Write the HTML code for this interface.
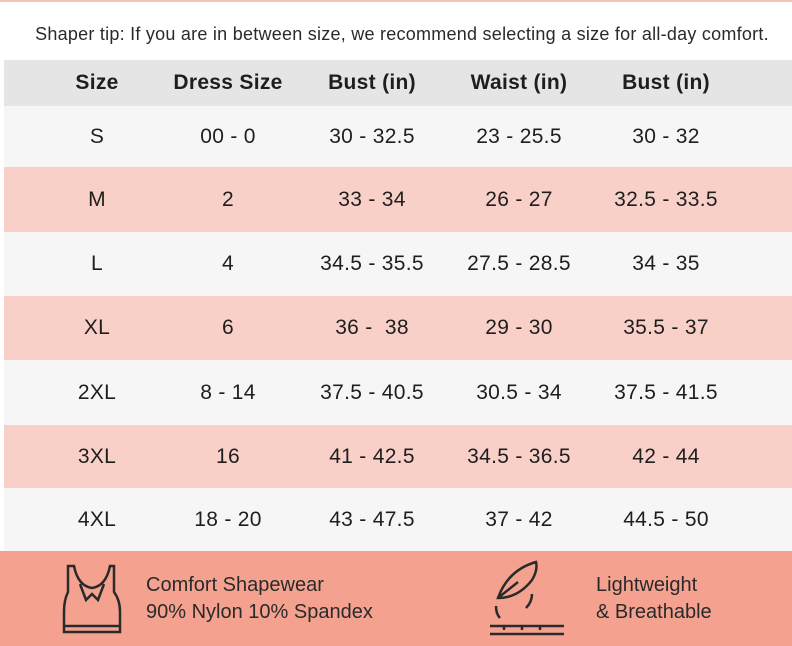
<!DOCTYPE html>
<html><head><style>
body{margin:0;width:792px;height:646px;background:#fff;font-family:"Liberation Sans",sans-serif;color:#1e1e1e;position:relative;overflow:hidden}
.top{position:absolute;left:0;top:0;width:792px;height:2px;background:#f3c3b8}
.tip{position:absolute;left:0;width:804px;top:24px;text-align:center;font-size:18px;letter-spacing:0.25px;color:#2a2a2a}
.row{position:absolute;left:4px;width:788px;display:flex;align-items:center}
.row div{position:absolute;transform:translateX(-50%);white-space:nowrap;font-size:21px;letter-spacing:0.3px}
.h div{font-weight:bold;font-size:21px}
.foot{position:absolute;left:0;top:551px;width:792px;height:95px;background:#f4a28f}
.ft{position:absolute;font-size:20px;line-height:27px;color:#2a2a2a}
</style></head><body>
<div class="top"></div>
<div class="tip">Shaper tip: If you are in between size, we recommend selecting a size for all-day comfort.</div>
<div class="row h" style="top:60px;height:46px;background:#e5e5e5"><div style="left:93px">Size</div><div style="left:224px">Dress Size</div><div style="left:368px">Bust (in)</div><div style="left:515px">Waist (in)</div><div style="left:662px">Bust (in)</div></div>
<div class="row" style="top:106px;height:61px;background:#f6f6f6"><div style="left:93px">S</div><div style="left:224px">00 - 0</div><div style="left:368px">30 - 32.5</div><div style="left:515px">23 - 25.5</div><div style="left:662px">30 - 32</div></div>
<div class="row" style="top:167px;height:65px;background:#f9d0c8"><div style="left:93px">M</div><div style="left:224px">2</div><div style="left:368px">33 - 34</div><div style="left:515px">26 - 27</div><div style="left:662px">32.5 - 33.5</div></div>
<div class="row" style="top:232px;height:64px;background:#f6f6f6"><div style="left:93px">L</div><div style="left:224px">4</div><div style="left:368px">34.5 - 35.5</div><div style="left:515px">27.5 - 28.5</div><div style="left:662px">34 - 35</div></div>
<div class="row" style="top:296px;height:64px;background:#f9d0c8"><div style="left:93px">XL</div><div style="left:224px">6</div><div style="left:368px">36 -&nbsp; 38</div><div style="left:515px">29 - 30</div><div style="left:662px">35.5 - 37</div></div>
<div class="row" style="top:360px;height:65px;background:#f6f6f6"><div style="left:93px">2XL</div><div style="left:224px">8 - 14</div><div style="left:368px">37.5 - 40.5</div><div style="left:515px">30.5 - 34</div><div style="left:662px">37.5 - 41.5</div></div>
<div class="row" style="top:425px;height:63px;background:#f9d0c8"><div style="left:93px">3XL</div><div style="left:224px">16</div><div style="left:368px">41 - 42.5</div><div style="left:515px">34.5 - 36.5</div><div style="left:662px">42 - 44</div></div>
<div class="row" style="top:488px;height:63px;background:#f6f6f6"><div style="left:93px">4XL</div><div style="left:224px">18 - 20</div><div style="left:368px">43 - 47.5</div><div style="left:515px">37 - 42</div><div style="left:662px">44.5 - 50</div></div>
<div class="foot"></div>
<svg style="position:absolute;left:60px;top:560px" width="70" height="80" viewBox="0 0 70 80" fill="none" stroke="#2a2a2a" stroke-width="2.5">
<path d="M8 6 V32 Q4 40 4 52 V72 H60 V52 Q60 40 54 32 V6 H50 Q46 26 32 28 Q18 26 14 6 Z"/>
<path d="M20 24 L26 40 L32 34 L38 40 L44 24"/><path d="M4 66 H60"/>
</svg>
<div class="ft" style="left:146px;top:572px">Comfort Shapewear<br>90% Nylon 10% Spandex</div>
<svg style="position:absolute;left:488px;top:558px" width="90" height="84" viewBox="0 0 90 84" fill="none" stroke="#2a2a2a" stroke-width="2.5">
<path d="M48 4 Q20 12 10 40 Q30 40 44 22 Q50 12 48 4 Z"/><path d="M10 40 L30 24"/>
<path d="M8 48 Q8 56 12 60"/><path d="M44 36 Q44 44 38 50"/>
<path d="M2 68 H76"/><path d="M2 76 H76"/><path d="M16 68 V72 M34 68 V72 M52 68 V72"/>
</svg>
<div class="ft" style="left:596px;top:572px">Lightweight<br>&amp; Breathable</div>
</body></html>
